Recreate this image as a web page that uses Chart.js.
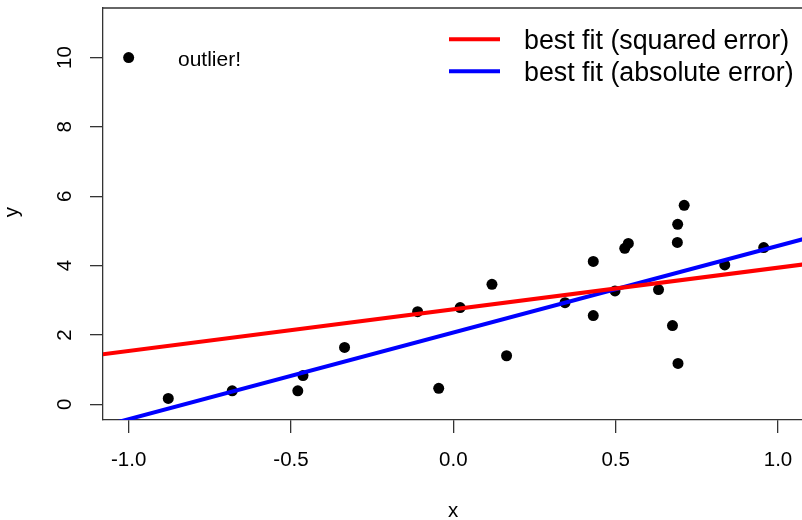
<!DOCTYPE html>
<html>
<head>
<meta charset="utf-8">
<script src="https://cdn.jsdelivr.net/npm/chart.js@4"></script>
<style>
  html, body { margin: 0; padding: 0; background: #fff; overflow: hidden; }
  #wrap { width: 802px; height: 520px; overflow: hidden; }
  canvas { display: block; }
</style>
</head>
<body>
<div id="wrap"><canvas id="plot" width="840" height="520" style="width:840px;height:520px"></canvas></div>
<script>
// observations (x, y); the first one is the outlier
var xs = [-1.0, -0.878, -0.681, -0.479, -0.463, -0.335, -0.110, -0.045, 0.021, 0.119,
          0.164, 0.344, 0.431, 0.431, 0.498, 0.528, 0.539, 0.632, 0.675, 0.692,
          0.690, 0.691, 0.711, 0.836, 0.956];
var ys = [10.0, 0.17, 0.39, 0.39, 0.83, 1.64, 2.67, 0.46, 2.79, 3.46,
          1.40, 2.93, 2.56, 4.12, 3.27, 4.50, 4.64, 3.31, 2.27, 1.18,
          4.67, 5.19, 5.74, 4.02, 4.52];

// fitted lines: intercept + slope * x
var fitNames = ["best fit (squared error)", "best fit (absolute error)"];
var fitColors = ["#ff0000", "#0000ff"];
var fitIntercepts = [2.74, 2.07];
var fitSlopes = [1.20, 2.50];

var xTicks = [-1.0, -0.5, 0.0, 0.5, 1.0];
var yTicks = [0, 2, 4, 6, 8, 10];
var xLim = [-1.079, 1.174];
var yLim = [-0.453, 11.43];

var FONT = '"Liberation Sans", Arial, sans-serif';
var INK = "#333";

var points = xs.map(function (x, i) { return { x: x, y: ys[i] }; });

var lineSets = fitNames.map(function (name, i) {
  return {
    type: "line",
    label: name,
    data: [
      { x: xLim[0] - 0.2, y: fitIntercepts[i] + fitSlopes[i] * (xLim[0] - 0.2) },
      { x: xLim[1] + 0.2, y: fitIntercepts[i] + fitSlopes[i] * (xLim[1] + 0.2) }
    ],
    borderColor: fitColors[i],
    borderWidth: 4,
    pointRadius: 0,
    fill: false,
    clip: 0,
    order: 0
  };
});

// frame, tick labels, axis titles, note and legend in base-graphics style
var decorations = {
  id: "decorations",
  afterDraw: function (chart) {
    var ctx = chart.ctx;
    var a = chart.chartArea;
    var sx = chart.scales.x;
    var sy = chart.scales.y;
    ctx.save();

    ctx.strokeStyle = INK;
    ctx.lineWidth = 1.3;
    ctx.beginPath();
    ctx.moveTo(a.left, a.top);
    ctx.lineTo(a.right, a.top);
    ctx.stroke();

    ctx.fillStyle = "#000";
    ctx.font = "20.5px " + FONT;
    ctx.textAlign = "center";
    ctx.textBaseline = "middle";
    xTicks.forEach(function (v) {
      ctx.fillText(v.toFixed(1), sx.getPixelForValue(v), 460);
    });
    yTicks.forEach(function (v) {
      ctx.save();
      ctx.translate(65, sy.getPixelForValue(v));
      ctx.rotate(-Math.PI / 2);
      ctx.fillText(String(v), 0, 0);
      ctx.restore();
    });

    ctx.textBaseline = "alphabetic";
    ctx.fillText("x", 453, 517);
    ctx.save();
    ctx.translate(18, 212);
    ctx.rotate(-Math.PI / 2);
    ctx.fillText("y", 0, 0);
    ctx.restore();

    ctx.textAlign = "left";
    ctx.font = "21px " + FONT;
    ctx.fillText("outlier!", 178, 66);

    ctx.font = "26.8px " + FONT;
    fitNames.forEach(function (name, i) {
      var ly = 39.3 + i * 32;
      ctx.strokeStyle = fitColors[i];
      ctx.lineWidth = 4;
      ctx.beginPath();
      ctx.moveTo(449, ly);
      ctx.lineTo(500, ly);
      ctx.stroke();
      ctx.fillText(name, 524, 49.3 + i * 32);
    });
    ctx.restore();
  }
};

var axisLook = {
  border: { display: true, color: INK, width: 1.3 },
  grid: { drawOnChartArea: false, drawTicks: true, tickLength: 13, color: INK, lineWidth: 1.3 },
  ticks: { display: false }
};

new Chart(document.getElementById("plot"), {
  type: "scatter",
  data: {
    datasets: lineSets.concat([{
      type: "scatter",
      label: "data",
      data: points,
      pointRadius: 5.5,
      pointBackgroundColor: "#000",
      pointBorderWidth: 0,
      clip: false,
      order: 1
    }])
  },
  options: {
    responsive: false,
    animation: false,
    devicePixelRatio: 1,
    layout: { padding: { left: 0, right: 0, top: 8, bottom: 0 } },
    plugins: { legend: { display: false }, tooltip: { enabled: false } },
    scales: {
      x: Object.assign({
        type: "linear",
        min: xLim[0],
        max: xLim[1],
        afterBuildTicks: function (axis) { axis.ticks = xTicks.map(function (v) { return { value: v }; }); },
        afterFit: function (axis) { axis.height = 100; }
      }, axisLook),
      y: Object.assign({
        type: "linear",
        min: yLim[0],
        max: yLim[1],
        afterBuildTicks: function (axis) { axis.ticks = yTicks.map(function (v) { return { value: v }; }); },
        afterFit: function (axis) { axis.width = 103; }
      }, axisLook)
    }
  },
  plugins: [decorations]
});
</script>
</body>
</html>
